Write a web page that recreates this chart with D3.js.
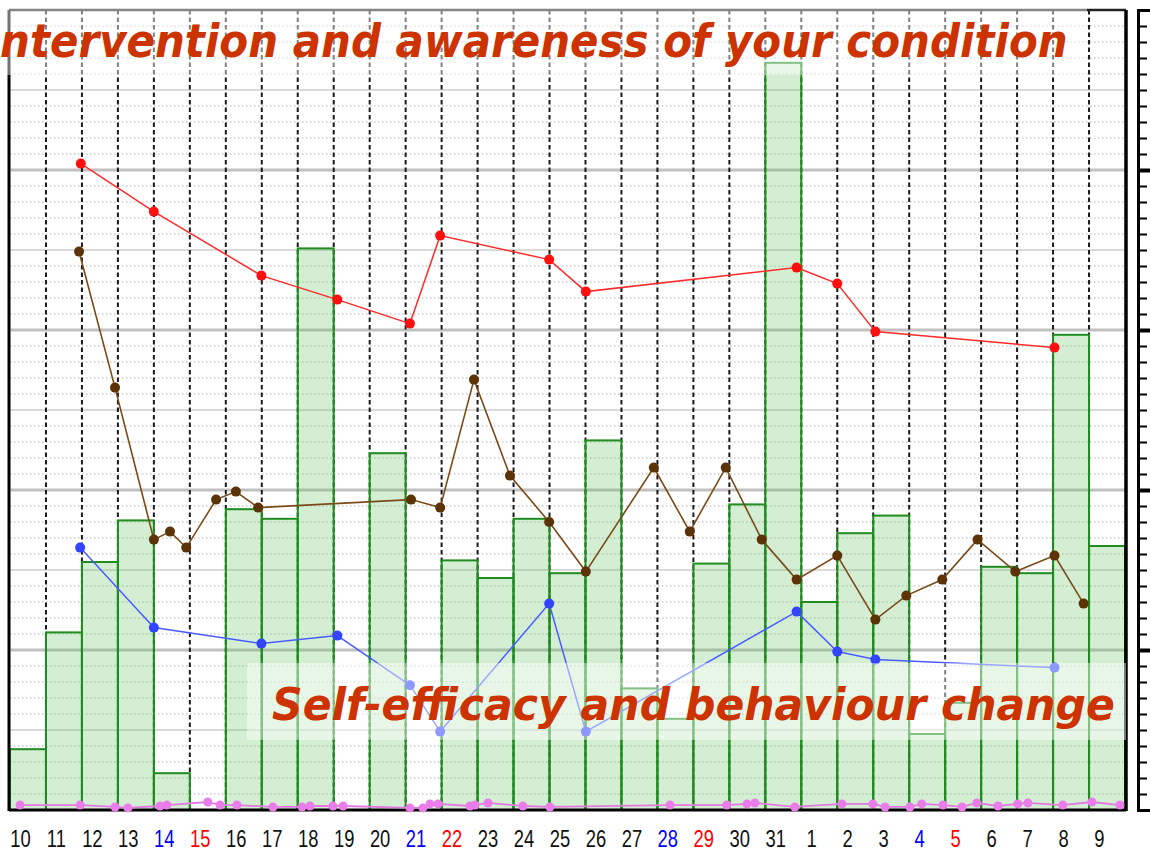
<!DOCTYPE html>
<html>
<head>
<meta charset="utf-8">
<script src="https://cdn.jsdelivr.net/npm/d3@7"></script>
<style>
  html, body { margin: 0; padding: 0; background: #fff; }
  svg { display: block; }
</style>
</head>
<body>
<svg id="chart" width="1150" height="850"></svg>
<script>
// ---------- DATA ----------
const dayLabels = ["10","11","12","13","14","15","16","17","18","19","20","21","22","23","24","25","26","27","28","29","30","31","1","2","3","4","5","6","7","8","9"];
const dayColors = ["k","k","k","k","b","r","k","k","k","k","k","b","r","k","k","k","k","k","b","r","k","k","k","k","k","b","r","k","k","k","k"];

// bar values, one per day (0 = no bar)
const barValues = [3.8, 11.1, 15.5, 18.1, 2.3, 0, 18.8, 18.2, 35.1, 0, 22.3, 0, 15.6, 14.5, 18.2, 14.8, 23.1, 7.6, 5.7, 15.4, 19.1, 46.7, 13.0, 17.3, 18.4, 4.75, 6.7, 15.2, 14.8, 29.7, 16.5];

// red series (day position, value)
const redDays   = [1.97, 4.0, 6.99, 9.1, 11.12, 11.96, 14.99, 16.01, 21.87, 23.0, 24.06, 29.04];
const redValues = [40.4, 37.4, 33.4, 31.9, 30.4, 35.9, 34.4, 32.4, 33.9, 32.9, 29.9, 28.9];

// brown series
const brownDays   = [1.92, 2.92, 4.0, 4.45, 4.9, 5.73, 6.28, 6.9, 11.15, 11.96, 12.9, 13.9, 14.99, 16.01, 17.9, 18.9, 19.9, 20.9, 21.87, 23.0, 24.06, 24.92, 25.92, 26.9, 27.95, 29.04, 29.85];
const brownValues = [34.9, 26.4, 16.9, 17.4, 16.4, 19.4, 19.9, 18.9, 19.4, 18.9, 26.9, 20.9, 18.0, 14.9, 21.4, 17.4, 21.4, 16.9, 14.4, 15.9, 11.9, 13.4, 14.4, 16.9, 14.9, 15.9, 12.9];

// blue series
const blueDays   = [1.95, 4.0, 6.99, 9.1, 11.12, 11.96, 14.99, 16.01, 21.87, 23.0, 24.06, 29.04];
const blueValues = [16.4, 11.4, 10.4, 10.9, 7.8, 4.9, 12.9, 4.9, 12.4, 9.9, 9.4, 8.9];

// magenta series (near the floor)
const magentaDays   = [0.28, 1.95, 2.92, 3.28, 4.17, 4.36, 5.5, 5.84, 6.31, 7.31, 8.12, 8.34, 8.98, 9.26, 11.12, 11.48, 11.68, 11.9, 12.79, 12.93, 13.29, 14.26, 15.01, 18.35, 19.93, 20.49, 20.71, 21.82, 23.13, 23.99, 24.33, 25.02, 25.35, 25.94, 26.47, 26.88, 27.47, 28.02, 28.3, 29.27, 30.08, 30.86];
const magentaValues = [0.31, 0.31, 0.19, 0.13, 0.25, 0.31, 0.5, 0.31, 0.31, 0.19, 0.19, 0.25, 0.25, 0.25, 0.13, 0.13, 0.38, 0.38, 0.25, 0.31, 0.44, 0.25, 0.19, 0.31, 0.31, 0.38, 0.44, 0.19, 0.38, 0.38, 0.19, 0.19, 0.38, 0.31, 0.19, 0.44, 0.25, 0.38, 0.44, 0.31, 0.5, 0.31];

const titleText = "Intervention and awareness of your condition";
const labelText = "Self-efficacy and behaviour change";

// ---------- CHART ----------
const svg = d3.select("#chart");
const x = d3.scaleLinear().domain([0, 31]).range([10, 1125]);
const y = d3.scaleLinear().domain([0, 50]).range([810, 10]);

// horizontal grid
const gGrid = svg.append("g");
d3.range(1, 50).forEach(v => {
  const major = v % 10 === 0, mid = v % 5 === 0;
  gGrid.append("line")
    .attr("x1", x(0)).attr("x2", x(31))
    .attr("y1", y(v)).attr("y2", y(v))
    .attr("stroke", major ? "#c0c0c0" : mid ? "#dadada" : "#b0b0b0")
    .attr("stroke-width", major ? 3 : mid ? 2 : 1)
    .attr("stroke-dasharray", (major || mid) ? null : "1.5,2.5");
});
// vertical dashed day separators
d3.range(1, 31).forEach(k => {
  gGrid.append("line")
    .attr("x1", x(k)).attr("x2", x(k))
    .attr("y1", y(50)).attr("y2", y(0))
    .attr("stroke", "#1a1a1a").attr("stroke-width", 2)
    .attr("stroke-dasharray", "4.5,3");
});

// bars
svg.append("g").selectAll("rect")
  .data(barValues.map((v, i) => ({ v, i })).filter(d => d.v > 0))
  .join("rect")
  .attr("x", d => x(d.i))
  .attr("y", d => y(d.v))
  .attr("width", d => x(d.i + 1) - x(d.i))
  .attr("height", d => y(0) - y(d.v))
  .attr("fill", "rgb(100,195,100)").attr("fill-opacity", 0.28)
  .attr("stroke", "#1e8c1e").attr("stroke-width", 2);

// frame
const gFrame = svg.append("g").attr("fill", "none");
gFrame.append("line").attr("x1", x(0) - 1).attr("x2", x(31) + 1).attr("y1", y(50)).attr("y2", y(50)).attr("stroke", "#222").attr("stroke-width", 2.5);
gFrame.append("line").attr("x1", x(0) - 1).attr("x2", x(31) + 1).attr("y1", y(0)).attr("y2", y(0)).attr("stroke", "#000").attr("stroke-width", 3);
gFrame.append("line").attr("x1", x(0) - 1).attr("x2", x(0) - 1).attr("y1", y(50)).attr("y2", y(0) + 1).attr("stroke", "#000").attr("stroke-width", 3);
gFrame.append("line").attr("x1", x(31) + 1).attr("x2", x(31) + 1).attr("y1", y(50)).attr("y2", y(0) + 1).attr("stroke", "#000").attr("stroke-width", 3.5);

// right axis (ticks only)
const axisR = d3.axisRight(y).tickValues(d3.range(0, 51, 1)).tickFormat("").tickSize(10).tickSizeOuter(12);
const gAx = svg.append("g").attr("transform", "translate(1138,0)").call(axisR);
gAx.select(".domain").attr("stroke", "#000").attr("stroke-width", 3);
gAx.selectAll(".tick line")
  .attr("stroke", "#000")
  .attr("stroke-width", d => (d % 10 === 0 && d > 0 && d < 50) ? 4 : 2)
  .attr("x2", d => (d % 10 === 0) ? 13 : 9);

// series
function drawSeries(days, values, lineColor, dotColor, r, lw) {
  const data = days.map((d, i) => ({ d, v: values[i] }));
  const g = svg.append("g");
  g.append("path").datum(data)
    .attr("d", d3.line().x(p => x(p.d)).y(p => y(p.v)))
    .attr("fill", "none").attr("stroke", lineColor).attr("stroke-width", lw);
  g.selectAll("circle").data(data).join("circle")
    .attr("cx", p => x(p.d)).attr("cy", p => y(p.v)).attr("r", r)
    .attr("fill", dotColor);
}
drawSeries(magentaDays, magentaValues, "#e27ae2", "#ea7dea", 4.5, 1.8);
drawSeries(blueDays, blueValues, "#4a5cff", "#3344ff", 5, 1.5);
drawSeries(brownDays, brownValues, "#7a4a18", "#5c3307", 5, 1.6);
drawSeries(redDays, redValues, "#ff2a2a", "#ff1010", 5, 1.5);

// translucent label boxes
svg.append("rect").attr("x", 0).attr("y", 0).attr("width", 1087).attr("height", 75)
  .attr("fill", "#fff").attr("fill-opacity", 0.45);
svg.append("rect").attr("x", 247).attr("y", 663).attr("width", 879).attr("height", 77)
  .attr("fill", "#fff").attr("fill-opacity", 0.45);

// fitted italic texts (horizontal scale so ink spans startX..endX)
const FONT = "'DejaVu Sans', Verdana, sans-serif";
function fittedText(str, skipPrefix, startX, endX, baseline, size) {
  const g = svg.append("g");
  const t = g.append("text")
    .attr("font-family", FONT)
    .attr("font-weight", "bold").attr("font-style", "italic")
    .attr("font-size", size).attr("fill", "#cc3300")
    .attr("x", 0).attr("y", 0).text(str);
  const full = t.node().getComputedTextLength();
  let pre = 0;
  if (skipPrefix) {
    const tmp = g.append("text").attr("font-family", FONT)
      .attr("font-weight", "bold").attr("font-style", "italic").attr("font-size", size).text(skipPrefix);
    pre = tmp.node().getComputedTextLength();
    tmp.remove();
  }
  const s = (endX - startX) / (full - pre);
  g.attr("transform", `translate(${startX - pre * s},${baseline}) scale(${s},1)`);
}
fittedText(titleText, "I", 0, 1068, 57, 46);
fittedText(labelText, null, 272, 1115, 720, 45);

// day labels
svg.append("g").selectAll("text")
  .data(dayLabels.map((l, i) => ({ l, i })))
  .join("text")
  .attr("transform", d => `translate(${x(d.i + 0.29)},847) scale(0.8,1)`)
  .attr("text-anchor", "middle")
  .attr("font-family", "'Liberation Sans', Arial, sans-serif")
  .attr("font-size", 23)
  .attr("fill", d => dayColors[d.i] === "b" ? "#0000ff" : dayColors[d.i] === "r" ? "#ff0000" : "#111")
  .text(d => d.l);
</script>
</body>
</html>
